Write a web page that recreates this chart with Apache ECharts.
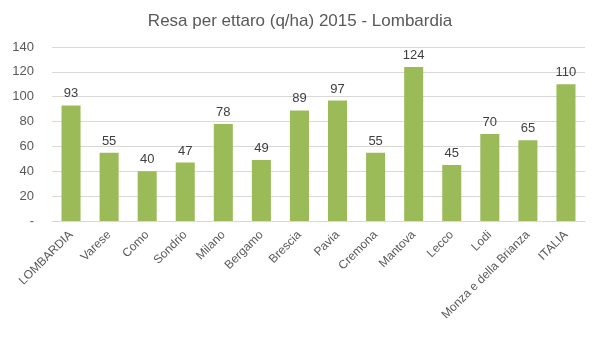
<!DOCTYPE html>
<html><head><meta charset="utf-8">
<script src="https://cdn.jsdelivr.net/npm/echarts@6/dist/echarts.min.js"></script>
<style>html,body{margin:0;padding:0;background:#fff}#c{width:600px;height:340px}</style>
</head><body><div id="c"></div>
<script>
const categories = ["LOMBARDIA","Varese","Como","Sondrio","Milano","Bergamo","Brescia","Pavia","Cremona","Mantova","Lecco","Lodi","Monza e della Brianza","ITALIA"];
const values = [93,55,40,47,78,49,89,97,55,124,45,70,65,110];
const yTicks = [0,20,40,60,80,100,120,140];
const titleText = "Resa per ettaro (q/ha) 2015 - Lombardia";

const chart = echarts.init(document.getElementById('c'), null, {renderer:'canvas'});
const font = "'Liberation Sans', Arial, sans-serif";
chart.setOption({
  animation:false,
  title:{text:titleText,left:'center',top:8,textStyle:{fontFamily:font,fontSize:17,fontWeight:'normal',color:'#595959'}},
  grid:{left:52,right:15,top:47,bottom:119,containLabel:false},
  xAxis:{type:'category',data:categories,
    axisLine:{lineStyle:{color:'#d9d9d9'}},axisTick:{show:false},
    axisLabel:{rotate:45,interval:0,color:'#595959',fontFamily:font,fontSize:12,margin:12}},
  yAxis:{type:'value',min:yTicks[0],max:yTicks[yTicks.length-1],interval:20,
    axisLine:{show:false},axisTick:{show:false},
    splitLine:{lineStyle:{color:'#d9d9d9'}},
    axisLabel:{color:'#595959',fontFamily:font,fontSize:13,margin:18,formatter:v=>v===0?'-':String(v)}},
  series:[{type:'bar',data:values,barWidth:'50%',itemStyle:{color:'#9bbb59'},
    label:{show:true,position:'top',distance:5,color:'#404040',fontFamily:font,fontSize:13}}]
});
</script></body></html>
